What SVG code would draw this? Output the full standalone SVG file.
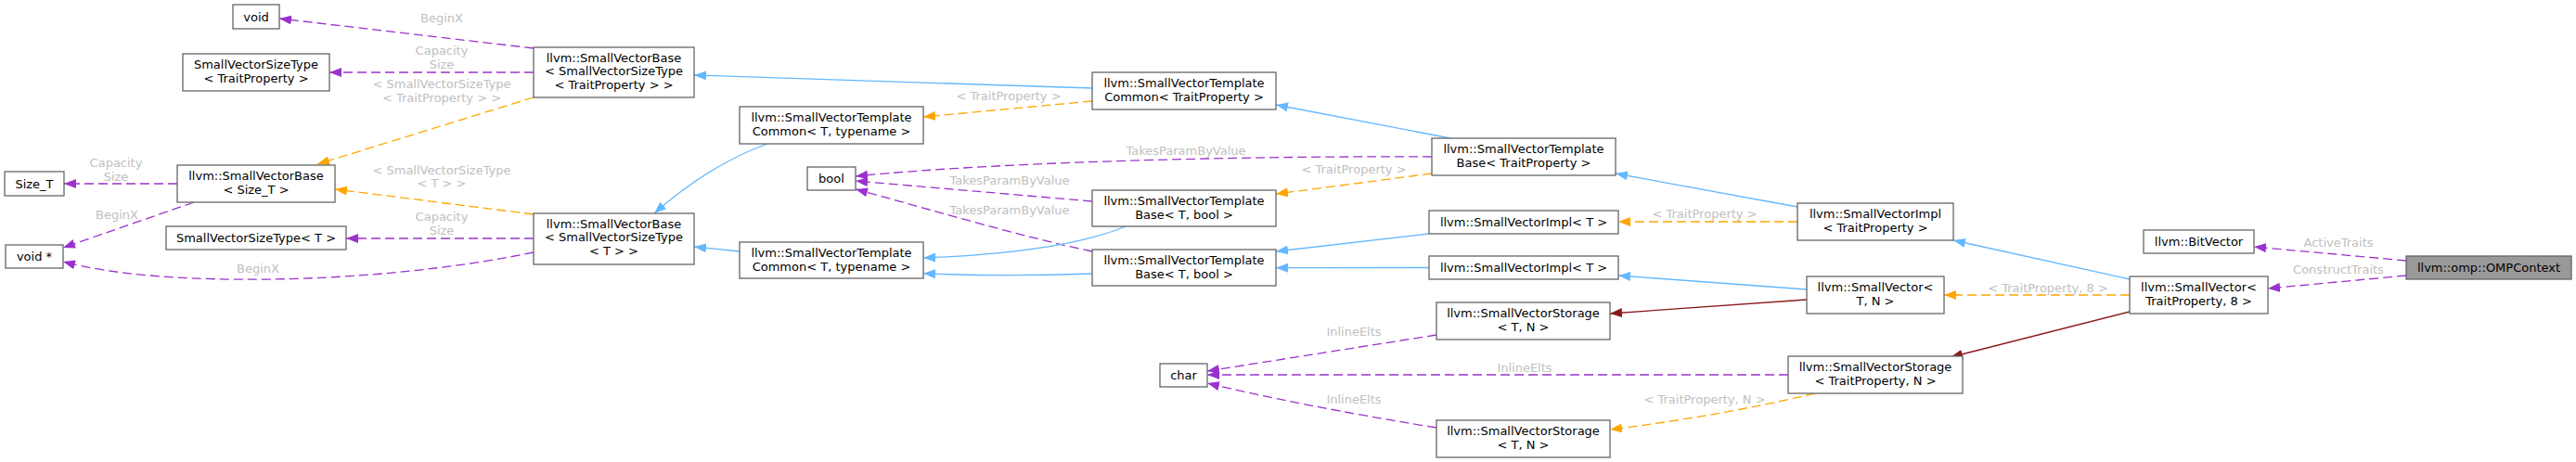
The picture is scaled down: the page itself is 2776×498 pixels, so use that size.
<svg xmlns="http://www.w3.org/2000/svg" width="2776" height="498" viewBox="0 0 2776 498">
<style>
.node rect{fill:#fff;stroke:#666;stroke-width:1.3}
.node rect.sel{fill:#999}
text{font-family:"DejaVu Sans","Liberation Sans",sans-serif;font-size:13px;text-anchor:middle}
.node text{fill:#000}
.lbl{fill:#c0c0c0}
.e{fill:none;stroke-width:1.3}
.p{stroke:#9a32cd;stroke-dasharray:10,5;marker-end:url(#mp)}
.o{stroke:#ffa500;stroke-dasharray:10,5;marker-end:url(#mo)}
.b{stroke:#63b8ff;marker-end:url(#mb)}
.r{stroke:#8b1a1a;marker-end:url(#mr)}
</style>
<defs>
<marker id="mp" markerUnits="userSpaceOnUse" viewBox="0 0 13 10" markerWidth="13" markerHeight="10" refX="13" refY="5" orient="auto"><path d="M0,0L13,5L0,10z" fill="#9a32cd"/></marker>
<marker id="mo" markerUnits="userSpaceOnUse" viewBox="0 0 13 10" markerWidth="13" markerHeight="10" refX="13" refY="5" orient="auto"><path d="M0,0L13,5L0,10z" fill="#ffa500"/></marker>
<marker id="mb" markerUnits="userSpaceOnUse" viewBox="0 0 13 10" markerWidth="13" markerHeight="10" refX="13" refY="5" orient="auto"><path d="M0,0L13,5L0,10z" fill="#63b8ff"/></marker>
<marker id="mr" markerUnits="userSpaceOnUse" viewBox="0 0 13 10" markerWidth="13" markerHeight="10" refX="13" refY="5" orient="auto"><path d="M0,0L13,5L0,10z" fill="#8b1a1a"/></marker>
</defs>
<rect width="2776" height="498" fill="#fff"/>
<g id="edges">
<path class="e p" d="M2593,281L2429,266"/>
<text class="lbl" x="2520" y="265.5">ActiveTraits</text>
<path class="e p" d="M2593,297L2444,311"/>
<text class="lbl" x="2520" y="294.8">ConstructTraits</text>
<path class="e b" d="M2295,301L2105,259"/>
<path class="e o" d="M2295,318L2095,318"/>
<text class="lbl" x="2207" y="314.5">&lt; TraitProperty, 8 &gt;</text>
<path class="e r" d="M2295,336L2102,385"/>
<path class="e b" d="M1937,223L1741,187"/>
<path class="e o" d="M1937,239L1744,239"/>
<text class="lbl" x="1837" y="234.8">&lt; TraitProperty &gt;</text>
<path class="e b" d="M1947,312L1744,297"/>
<path class="e r" d="M1947,323L1735,338"/>
<path class="e p" d="M1927,404L1301,404"/>
<text class="lbl" x="1643" y="400.8">InlineElts</text>
<path class="e o" d="M1956,424Q1850,449 1735,463"/>
<text class="lbl" x="1837" y="434.5">&lt; TraitProperty, N &gt;</text>
<path class="e p" d="M1548,361L1301,400"/>
<text class="lbl" x="1459" y="362">InlineElts</text>
<path class="e p" d="M1548,461Q1400,437 1301,413"/>
<text class="lbl" x="1459" y="434.5">InlineElts</text>
<path class="e b" d="M1540,252L1375,271"/>
<path class="e b" d="M1540,288.5L1375,288.7"/>
<path class="e o" d="M1543,187L1375,209"/>
<text class="lbl" x="1459" y="186.5">&lt; TraitProperty &gt;</text>
<path class="e p" d="M1543,169C1400,168 1100,172 922,190"/>
<text class="lbl" x="1278" y="166.5">TakesParamByValue</text>
<path class="e p" d="M1177,217L922,195"/>
<text class="lbl" x="1088" y="198.8">TakesParamByValue</text>
<path class="e p" d="M1177,271C1100,255 1000,225 922,204"/>
<text class="lbl" x="1088" y="230.5">TakesParamByValue</text>
<path class="e b" d="M1563,149L1375,113"/>
<path class="e b" d="M1177,95L748,81"/>
<path class="e o" d="M1177,109L995,126"/>
<text class="lbl" x="1087" y="107.5">&lt; TraitProperty &gt;</text>
<path class="e b" d="M1213,244C1170,262 1100,274 995,278"/>
<path class="e b" d="M1177,295C1100,298 1050,297 995,294.7"/>
<path class="e b" d="M827,155C785,170 745,195 705,230"/>
<path class="e b" d="M797,271L748,266"/>
<path class="e p" d="M575,52L301,20"/>
<text class="lbl" x="476" y="23.8">BeginX</text>
<path class="e p" d="M575,78L355,78"/>
<text class="lbl" x="476" y="59">Capacity</text>
<text class="lbl" x="476" y="74">Size</text>
<path class="e o" d="M575,105L342,177"/>
<text class="lbl" x="476" y="94.8">&lt; SmallVectorSizeType</text>
<text class="lbl" x="476" y="109.5">&lt; TraitProperty &gt; &gt;</text>
<path class="e o" d="M575,231L361,204"/>
<text class="lbl" x="476" y="187.5">&lt; SmallVectorSizeType</text>
<text class="lbl" x="476" y="202">&lt; T &gt; &gt;</text>
<path class="e p" d="M575,257L373,257"/>
<text class="lbl" x="476" y="238">Capacity</text>
<text class="lbl" x="476" y="252.8">Size</text>
<path class="e p" d="M575,272C400,308 170,310 68,282"/>
<text class="lbl" x="278" y="293.5">BeginX</text>
<path class="e p" d="M191,198L69,198"/>
<text class="lbl" x="125" y="179.5">Capacity</text>
<text class="lbl" x="125" y="194.5">Size</text>
<path class="e p" d="M209,218L68,267"/>
<text class="lbl" x="126" y="235.5">BeginX</text>
</g>
<g id="n_omp" class="node"><rect class="sel" x="2593" y="276" width="178" height="25"/><text x="2682" y="293.2">llvm::omp::OMPContext</text></g>
<g id="n_bitvector" class="node"><rect x="2310" y="248" width="119" height="25"/><text x="2369.5" y="265.2">llvm::BitVector</text></g>
<g id="n_sv_tp8" class="node"><rect x="2295" y="298" width="149" height="40"/><text x="2369.5" y="314">llvm::SmallVector&lt;</text><text x="2369.5" y="328.5">TraitProperty, 8 &gt;</text></g>
<g id="n_svimpl_tp" class="node"><rect x="1937" y="219" width="168" height="40"/><text x="2021" y="235">llvm::SmallVectorImpl</text><text x="2021" y="249.5">&lt; TraitProperty &gt;</text></g>
<g id="n_sv_tn" class="node"><rect x="1947" y="298" width="148" height="40"/><text x="2021" y="314">llvm::SmallVector&lt;</text><text x="2021" y="328.5">T, N &gt;</text></g>
<g id="n_svstor_tp" class="node"><rect x="1927" y="384" width="188" height="40"/><text x="2021" y="400">llvm::SmallVectorStorage</text><text x="2021" y="414.5">&lt; TraitProperty, N &gt;</text></g>
<g id="n_svtb_tp" class="node"><rect x="1543" y="149" width="198" height="40"/><text x="1642" y="165">llvm::SmallVectorTemplate</text><text x="1642" y="179.5">Base&lt; TraitProperty &gt;</text></g>
<g id="n_svimpl_t1" class="node"><rect x="1540" y="227" width="204" height="25"/><text x="1642" y="244.2">llvm::SmallVectorImpl&lt; T &gt;</text></g>
<g id="n_svimpl_t2" class="node"><rect x="1540" y="276" width="204" height="25"/><text x="1642" y="293.2">llvm::SmallVectorImpl&lt; T &gt;</text></g>
<g id="n_svstor_tn1" class="node"><rect x="1548" y="326" width="187" height="40"/><text x="1641.5" y="342">llvm::SmallVectorStorage</text><text x="1641.5" y="356.5">&lt; T, N &gt;</text></g>
<g id="n_svstor_tn2" class="node"><rect x="1548" y="453" width="187" height="40"/><text x="1641.5" y="469">llvm::SmallVectorStorage</text><text x="1641.5" y="483.5">&lt; T, N &gt;</text></g>
<g id="n_svtc_tp" class="node"><rect x="1177" y="78" width="198" height="40"/><text x="1276" y="94">llvm::SmallVectorTemplate</text><text x="1276" y="108.5">Common&lt; TraitProperty &gt;</text></g>
<g id="n_svtb_tb1" class="node"><rect x="1177" y="205" width="198" height="39"/><text x="1276" y="221">llvm::SmallVectorTemplate</text><text x="1276" y="235.5">Base&lt; T, bool &gt;</text></g>
<g id="n_svtb_tb2" class="node"><rect x="1177" y="269" width="198" height="39"/><text x="1276" y="285">llvm::SmallVectorTemplate</text><text x="1276" y="299.5">Base&lt; T, bool &gt;</text></g>
<g id="n_char" class="node"><rect x="1250" y="392" width="51" height="25"/><text x="1275.5" y="409.2">char</text></g>
<g id="n_bool" class="node"><rect x="870" y="180" width="52" height="25"/><text x="896" y="197.2">bool</text></g>
<g id="n_svtc_t1" class="node"><rect x="797" y="115" width="198" height="40"/><text x="896" y="131">llvm::SmallVectorTemplate</text><text x="896" y="145.5">Common&lt; T, typename &gt;</text></g>
<g id="n_svtc_t2" class="node"><rect x="797" y="261" width="198" height="39"/><text x="896" y="277">llvm::SmallVectorTemplate</text><text x="896" y="291.5">Common&lt; T, typename &gt;</text></g>
<g id="n_svb_svst_tp" class="node"><rect x="575" y="51" width="173" height="54"/><text x="661.5" y="67">llvm::SmallVectorBase</text><text x="661.5" y="81.4">&lt; SmallVectorSizeType</text><text x="661.5" y="95.7">&lt; TraitProperty &gt; &gt;</text></g>
<g id="n_svb_svst_t" class="node"><rect x="575" y="230" width="173" height="55"/><text x="661.5" y="246">llvm::SmallVectorBase</text><text x="661.5" y="260.4">&lt; SmallVectorSizeType</text><text x="661.5" y="274.7">&lt; T &gt; &gt;</text></g>
<g id="n_void" class="node"><rect x="251" y="5" width="50" height="26"/><text x="276" y="22.7">void</text></g>
<g id="n_svst_tp" class="node"><rect x="197" y="58" width="158" height="40"/><text x="276" y="74">SmallVectorSizeType</text><text x="276" y="88.5">&lt; TraitProperty &gt;</text></g>
<g id="n_svb_sizet" class="node"><rect x="191" y="178" width="170" height="40"/><text x="276" y="194">llvm::SmallVectorBase</text><text x="276" y="208.5">&lt; Size_T &gt;</text></g>
<g id="n_sizet" class="node"><rect x="5" y="185" width="64" height="26"/><text x="37" y="202.7">Size_T</text></g>
<g id="n_svst_t" class="node"><rect x="179" y="244" width="194" height="25"/><text x="276" y="261.2">SmallVectorSizeType&lt; T &gt;</text></g>
<g id="n_voidp" class="node"><rect x="6" y="264" width="62" height="25"/><text x="37" y="281.2">void *</text></g>
</svg>
